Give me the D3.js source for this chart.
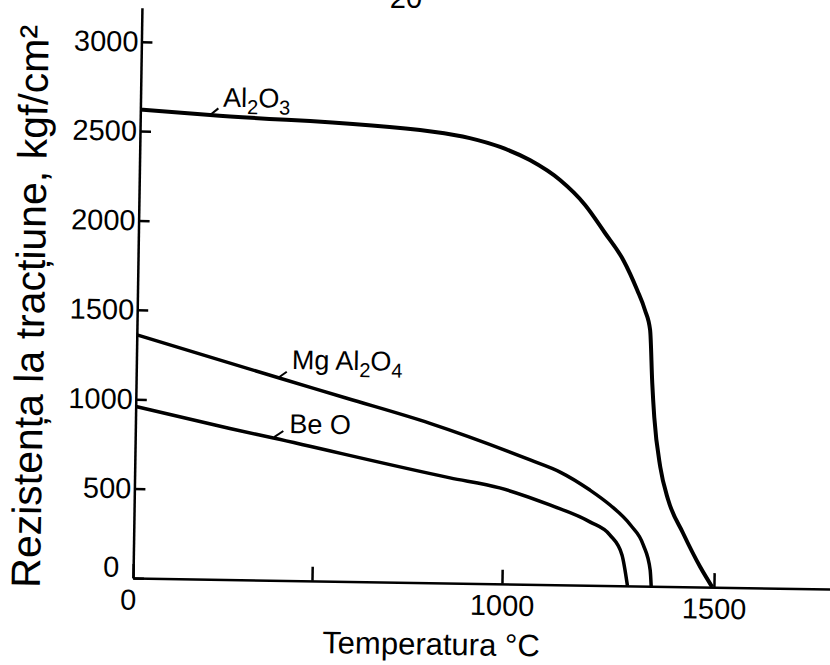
<!DOCTYPE html>
<html>
<head>
<meta charset="utf-8">
<script src="https://cdn.jsdelivr.net/npm/d3@7"></script>
<style>
body { margin: 0; background: #fff; }
svg text { font-family: "Liberation Sans", Arial, sans-serif; fill: #000; }
</style>
</head>
<body>
<div id="chart"></div>
<script>
// values: temperature (°C) -> tensile strength (kgf/cm2)
const al2o3Temp = [0, 195, 800, 897, 977, 1050, 1122, 1182, 1230, 1274, 1308, 1327, 1340, 1347, 1353, 1369, 1389, 1425, 1467, 1496];
const al2o3Str  = [2620, 2596, 2522, 2490, 2443, 2372, 2263, 2126, 1971, 1822, 1655, 1544, 1432, 1136, 946, 667, 483, 300, 111, 0];

const mgal2o4Temp = [0, 402, 584, 804, 1062, 1133, 1204, 1252, 1301, 1332, 1349, 1352];
const mgal2o4Str  = [1360, 1130, 1024, 891, 695, 630, 532, 450, 340, 229, 90, 0];

const beoTemp = [0, 264, 386, 859, 990, 1110, 1205, 1253, 1282, 1296];
const beoStr  = [960, 845, 795, 588, 536, 445, 354, 282, 172, 0];

const xTicks = [0, 500, 1000, 1500];
const xTickLabels = ["0", "", "1000", "1500"];
const yTicks = [0, 500, 1000, 1500, 2000, 2500, 3000];

const width = 830, height = 665;
const origin = {x: 133, y: 578};
const tilt = 0.9; // whole scan is turned a little clockwise

const svg = d3.select("#chart")
  .append("svg")
    .attr("width", width)
    .attr("height", height);

// page number, cut off at the top of the scan
svg.append("text")
  .attr("x", 406)
  .attr("y", 8)
  .attr("text-anchor", "middle")
  .style("font-size", "29px")
  .text("20");

const g = svg.append("g")
  .attr("transform", `rotate(${tilt},${origin.x},${origin.y})`);

// the printed x axis is not evenly spaced, so the scale is piecewise
const x = d3.scaleLinear()
  .domain([0, 500, 1000, 1500, 1780])
  .range([origin.x, 312, 502, 714, 833]);

const y = d3.scaleLinear()
  .domain([0, 3190])
  .range([origin.y, 7.7]);

// X axis, ticks pointing up
const xAxis = g.append("g")
  .attr("transform", `translate(0,${origin.y})`)
  .call(d3.axisBottom(x)
    .tickValues(xTicks)
    .tickSizeInner(-14)
    .tickSizeOuter(0)
    .tickPadding(11)
    .tickFormat((d, i) => xTickLabels[i]));

// Y axis, ticks pointing right
const yAxis = g.append("g")
  .attr("transform", `translate(${origin.x},0)`)
  .call(d3.axisLeft(y)
    .tickValues(yTicks)
    .tickSizeInner(-11)
    .tickSizeOuter(0)
    .tickPadding(3)
    .tickFormat(d3.format("d")));

[xAxis, yAxis].forEach(a => {
  a.selectAll("path, line").attr("stroke", "#000").attr("stroke-width", 2.5);
  a.selectAll("text").style("font-size", "29px");
});
xAxis.selectAll(".tick text").filter(d => d == 0).attr("dx", -5);
yAxis.selectAll(".tick text").filter(d => d == 0).attr("dx", -11).attr("dy", "-0.05em");

// curves
const series = [
  {name: "al2o3", temps: al2o3Temp, vals: al2o3Str, w: 4},
  {name: "mgal2o4", temps: mgal2o4Temp, vals: mgal2o4Str, w: 3.5},
  {name: "beo", temps: beoTemp, vals: beoStr, w: 3.5}
];

const line = d3.line()
  .x(d => x(d[0]))
  .y(d => y(d[1]))
  .curve(d3.curveMonotoneX);

g.selectAll(".curve")
  .data(series)
  .join("path")
    .attr("class", "curve")
    .attr("fill", "none")
    .attr("stroke", "#000")
    .attr("stroke-width", d => d.w)
    .attr("stroke-linejoin", "round")
    .attr("d", d => line(d3.zip(d.temps, d.vals)));

// curve labels with small leader strokes
const labels = [
  {at: [195, 2596], lead: [8.2, -6.8], off: [12.8, -8.6], parts: [["Al", 0], ["2", 1], ["O", 0], ["3", 1]]},
  {at: [397, 1133], lead: [8.4, -6.1], off: [13.3, -8.9], parts: [["Mg Al", 0], ["2", 1], ["O", 0], ["4", 1]]},
  {at: [388, 800], lead: [9.1, -6.3], off: [15, -4.3], parts: [["Be O", 0]]}
];

labels.forEach(l => {
  const px = x(l.at[0]), py = y(l.at[1]);
  g.append("line")
    .attr("x1", px).attr("y1", py)
    .attr("x2", px + l.lead[0]).attr("y2", py + l.lead[1])
    .attr("stroke", "#000")
    .attr("stroke-width", 2);
  const t = g.append("text")
    .attr("x", px + l.off[0])
    .attr("y", py + l.off[1])
    .style("font-size", "27px");
  let down = false;
  l.parts.forEach(p => {
    const sub = p[1] == 1;
    t.append("tspan")
      .attr("dy", sub && !down ? 7 : (!sub && down ? -7 : 0))
      .style("font-size", sub ? "20px" : null)
      .text(p[0]);
    down = sub;
  });
});

// axis titles
g.append("text")
  .attr("transform", "translate(40,308) rotate(-90)")
  .attr("text-anchor", "middle")
  .style("font-size", "41px")
  .text("Rezistența la tracțiune, kgf/cm²");

g.append("text")
  .attr("x", 432)
  .attr("y", 650)
  .attr("text-anchor", "middle")
  .style("font-size", "31px")
  .text("Temperatura °C");
</script>
</body>
</html>
